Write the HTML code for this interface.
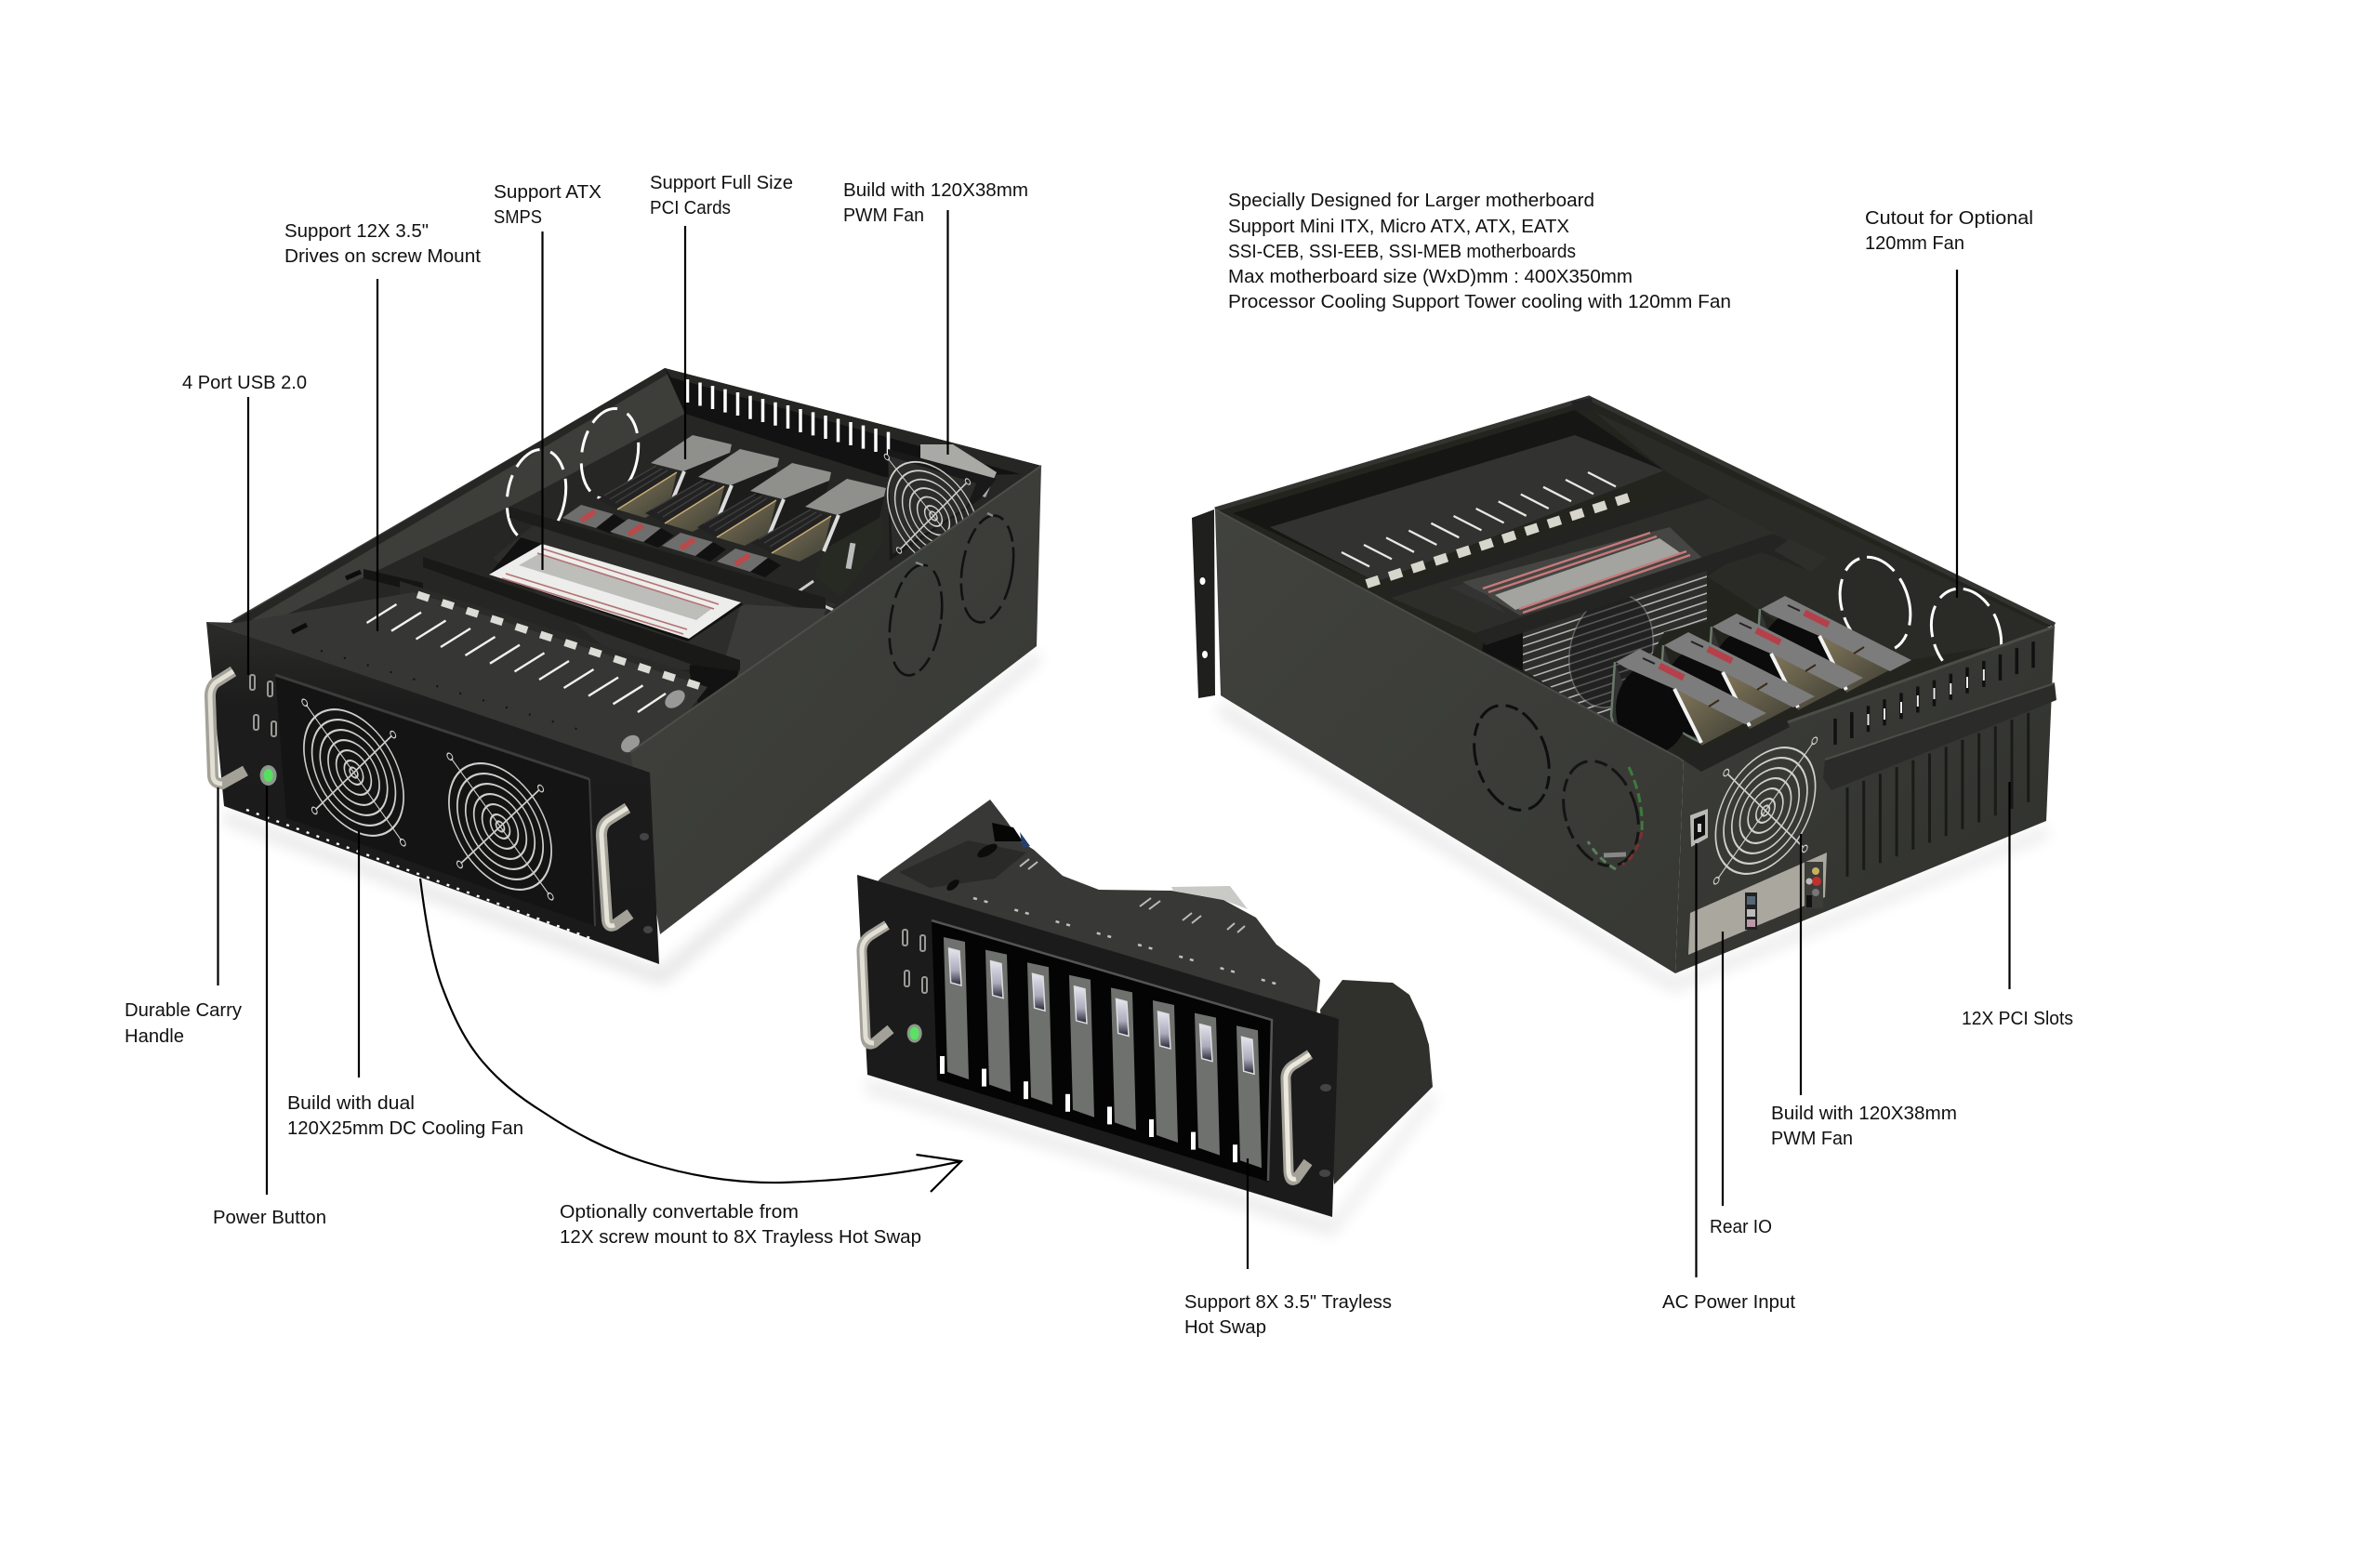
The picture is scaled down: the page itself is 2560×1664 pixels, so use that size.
<!DOCTYPE html>
<html><head><meta charset="utf-8"><title>Chassis features</title>
<style>
html,body{margin:0;padding:0;background:#fff;width:2560px;height:1664px;overflow:hidden}
svg{display:block}
text{font-family:"Liberation Sans",sans-serif;font-size:20.5px;fill:#111}
.l{stroke:#000;stroke-width:2.2;fill:none}
</style></head><body>
<svg xmlns="http://www.w3.org/2000/svg" width="2560" height="1664" viewBox="0 0 2560 1664">
<defs>
<filter id="b" x="-20%" y="-20%" width="140%" height="140%"><feGaussianBlur stdDeviation="8"/></filter>
<linearGradient id="wallL" x1="0" y1="0" x2="1" y2="1"><stop offset="0" stop-color="#41423e"/><stop offset="1" stop-color="#373834"/></linearGradient>
<linearGradient id="wallR" x1="0" y1="0" x2="1" y2="1"><stop offset="0" stop-color="#3d3e39"/><stop offset="1" stop-color="#2f302c"/></linearGradient>
<linearGradient id="gold" x1="0" y1="0" x2="1" y2="1"><stop offset="0" stop-color="#807558"/><stop offset="1" stop-color="#3f3f36"/></linearGradient>
<linearGradient id="win" x1="0" y1="0" x2="0" y2="1"><stop offset="0" stop-color="#e6e6f0"/><stop offset=".6" stop-color="#aab"/><stop offset="1" stop-color="#223"/></linearGradient>
<linearGradient id="panel" x1="0" y1="0" x2="0" y2="1"><stop offset="0" stop-color="#2b2b29"/><stop offset=".25" stop-color="#1c1c1c"/><stop offset="1" stop-color="#1a1a1a"/></linearGradient>
<g id="fan" fill="none" stroke="#cfcfcc" stroke-width="2.3">
<circle r="74"/><circle r="62"/><circle r="50"/><circle r="38"/><circle r="26"/><circle r="14"/><circle r="6"/>
<path d="M-64 -64L64 64M-64 64L64 -64" stroke-width="1.8"/>
<circle cx="-66" cy="-66" r="4" stroke-width="1.5"/><circle cx="66" cy="-66" r="4" stroke-width="1.5"/><circle cx="-66" cy="66" r="4" stroke-width="1.5"/><circle cx="66" cy="66" r="4" stroke-width="1.5"/>
</g>
<g id="lcard">
<polygon points="700,498 745,468 787,478 785,487 735,507" fill="#8f8f8c"/>
<polygon points="735,507 785,487 780,510 722,543" fill="#1c1c1b"/>
<polygon points="664,548 728,508 720,543 694,557" fill="url(#gold)"/>
<polygon points="643,537 700,503 728,508 664,548" fill="#222223"/>
<path d="M650 533L706 501M656 537L712 504M662 541L718 506" stroke="#3e3e3e" stroke-width="1.5"/>
<path d="M736 507L720 546" stroke="#dcdcdc" stroke-width="4"/>
<path d="M664 548L728 508" stroke="#c9ad78" stroke-width="1.5"/>
<polygon points="605,557 625,543 660,553 641,568" fill="#6e6e6e"/>
<polygon points="641,568 660,553 674,561 657,574" fill="#111"/>
<path d="M625 560L640 550" stroke="#b84a4a" stroke-width="6"/>
</g>
<g id="rcard">
<path d="M1737 712L1733 770Q1740 800 1776 816" fill="#333" stroke="#6a7a6a" stroke-width="2.500"/>
<ellipse cx="1777" cy="763" rx="39" ry="48" fill="#0b0b0b"/>
<polygon points="1803,742 1876,778 1830,802" fill="url(#gold)"/>
<polygon points="1738,712 1764,698 1900,767 1877,779 1803,742 1748,718" fill="#7b7c7b"/>
<path d="M1801 741L1830 799" stroke="#f2f2f2" stroke-width="4"/>
<path d="M1785 716L1811 729" stroke="#b5404a" stroke-width="7"/>
<path d="M1767 708L1780 714" stroke="#222" stroke-width="2"/>
<path d="M1838 760L1849 753" stroke="#3a2a18" stroke-width="2"/>
</g>
</defs>
<rect width="2560" height="1664" fill="#fff"/>

<!-- soft shadows -->
<polygon points="241,872 709,1042 1115,700 1120,710 712,1060 240,885" fill="#000" opacity=".1" filter="url(#b)"/>
<polygon points="1313,752 1802,1052 2201,888 2205,900 1800,1068 1310,770" fill="#000" opacity=".08" filter="url(#b)"/>
<polygon points="932,1160 1433,1312 1541,1172 1545,1185 1433,1330 930,1175" fill="#000" opacity=".08" filter="url(#b)"/>

<!-- ============ LEFT CASE ============ -->
<polygon points="248,670 715,396 1120,501 690,830" fill="#262624"/>
<!-- inner wall -->
<polygon points="248,668 715,396 737,445 548,545 300,665" fill="#3d3e39"/>
<polygon points="248,670 715,396 719,402 258,674" fill="#262625"/>
<g fill="none" stroke="#fff" stroke-width="3" stroke-dasharray="32 12 24 10">
<ellipse cx="656" cy="488" rx="30" ry="49" transform="rotate(10 656 488)"/>
<ellipse cx="577" cy="533" rx="31" ry="50" transform="rotate(10 577 533)"/>
</g>
<!-- back wall -->
<polygon points="715,396 1120,501 1101,510 951,513 737,445" fill="#121212"/>
<polygon points="715,396 1120,501 1105,512 722,406" fill="#262624"/>
<path d="M739.5 408v25M753 411.5v25M766.5 415v25M780 418.6v25M793.5 422v25M807 425.7v25M820.5 429v25M834 432.8v25M847.5 436v25M861 440v25M874.5 443.4v25M888 447v25M901.5 450.5v25M915 454v25M928.5 457.6v25M942 461v25M955.5 464.6v25" stroke="#fff" stroke-width="3.5" fill="none"/>
<!-- rear fan -->
<polygon points="990,478 1025,478 1072,508 1060,535 990,510" fill="#a9a9a6"/>
<polygon points="955,483 1072,515 1054,537 957,603" fill="#191919"/>
<polygon points="955,490 1050,520 1040,545 960,596" fill="#2c2d2b"/>
<use href="#fan" transform="matrix(.66,.2,.1,.76,1004,555)"/>
<!-- floor behind PSU -->
<polygon points="530,600 580,560 900,650 800,720 680,720" fill="#2d2e2b"/>
<!-- graphics cards -->
<use href="#lcard"/>
<use href="#lcard" transform="translate(51,15)"/>
<use href="#lcard" transform="translate(107,30)"/>
<polygon points="902,553 949,528 949,585 905,642 876,620" fill="#262a22"/>
<rect x="912" y="584" width="6" height="28" fill="#bbb" transform="rotate(10 915 598)"/>
<use href="#lcard" transform="translate(166,47)"/>
<path d="M875 625L856 638L896 656" stroke="#ccc" stroke-width="3" fill="none"/>
<!-- front bar -->
<polygon points="548,545 888,643 888,655 870,657 548,557" fill="#1d1d1c"/>
<polygon points="797,650 888,655 885,670 800,728 770,742" fill="#3b3c39"/>
<!-- PSU -->
<polygon points="560,578 800,650 740,690 526,618" fill="#111"/>
<polygon points="583,585 797,648 741,687 526,618" fill="#ededeb"/>
<polygon points="558,608 581,595 765,655 749,667" fill="#bdbdba"/>
<path d="M583 590L773 650M544 617L739 677" stroke="#b27272" stroke-width="1.6"/>
<path d="M578 595L768 655M540 622L735 682" stroke="#b27272" stroke-width="1.6"/>
<!-- second bar + tab -->
<polygon points="455,599 796,710 796,721 778,727 455,610" fill="#191918"/>
<polygon points="391,612 455,627 455,638 391,622" fill="#151514"/>
<polygon points="742,715 795,722 770,785 741,740" fill="#121212"/>
<polygon points="430,625 742,724 745,745 430,650" fill="#2a2a28"/>
<!-- drive plate, running down to the panel edge -->
<polygon points="254,670 445,637 761,739 690,830 222,669" fill="#363734"/>
<line x1="449" y1="639.5" x2="752" y2="738" stroke="#dcdcd6" stroke-width="8" stroke-dasharray="13 14.8"/>
<path d="M394.5 670l32 -20M421 678.7l32 -20M447.5 687.5l32 -20M474 696l32 -20M500.5 705l32 -20M527 713.7l32 -20M553.5 722.4l32 -20M580 731l32 -20M606.5 740l32 -20M633 748.6l32 -20M659.5 757.3l32 -20M686 766l30 -20" stroke="#f2f2ec" stroke-width="2.4" fill="none"/>
<path d="M314 680l16 -8M372 622l16 -7" stroke="#0c0c0c" stroke-width="5"/>
<line x1="345" y1="700" x2="640" y2="790" stroke="#111" stroke-width="2" stroke-dasharray="2 24"/>
<ellipse cx="726" cy="752" rx="12" ry="8" transform="rotate(-38 726 752)" fill="#999"/>
<ellipse cx="678" cy="800" rx="11" ry="8" transform="rotate(-38 678 800)" fill="#999"/>
<!-- side wall -->
<polygon points="678,809 1120,501 1115,695 710,1005" fill="url(#wallL)"/>
<path d="M678 809L1120 501" stroke="#4d4e49" stroke-width="2"/>
<g fill="none" stroke="#111" stroke-width="2.6" stroke-dasharray="30 8 18 6">
<ellipse cx="985" cy="667" rx="27" ry="60" transform="rotate(9 985 667)"/>
<ellipse cx="1062" cy="612" rx="27" ry="58" transform="rotate(9 1062 612)"/>
</g>
<path d="M985 605l8 3M1062 552l6 3" stroke="#888" stroke-width="2.5"/>
<!-- front panel -->
<polygon points="222,669 699,831 709,1037 241,867" fill="url(#panel)"/>
<line x1="265" y1="871" x2="640" y2="1011" stroke="#fff" stroke-width="2.4" stroke-dasharray="3 8.5"/>
<polygon points="296,726 634,838 640,996 308,880" fill="#141414"/>
<path d="M296 726L634 838" stroke="#3c3c3a" stroke-width="3"/>
<path d="M634 838L640 996" stroke="#3c3c3a" stroke-width="2"/>
<use href="#fan" transform="matrix(.72,.26,.08,.88,380.5,831)"/>
<use href="#fan" transform="matrix(.74,.26,.08,.88,538,889)"/>
<g fill="none" stroke="#9a9a96" stroke-width="2">
<rect x="269" y="726" width="5" height="16" rx="2"/><rect x="288" y="733" width="5" height="16" rx="2"/><rect x="273" y="769" width="5" height="16" rx="2"/><rect x="292" y="776" width="5" height="16" rx="2"/>
</g>
<ellipse cx="288.6" cy="834" rx="9" ry="11" fill="#8b9a8b"/>
<ellipse cx="288.6" cy="834" rx="5" ry="7" fill="#56e060"/>
<path d="M251 722L232 734Q225.500 740 226 750L229 835Q230 843 239 843L264 829" fill="none" stroke="#a3a198" stroke-width="12"/>
<path d="M251 722L232 734Q225.500 740 226 750L229 835Q230 843 239 843" fill="none" stroke="#e2dfd4" stroke-width="5"/>
<path d="M675 869L656 881Q646 887 647 900L653 990Q654 998 661 995L678 983" fill="none" stroke="#a3a198" stroke-width="12"/>
<path d="M675 869L656 881Q646 887 647 900L653 990Q654 998 661 995" fill="none" stroke="#e6e3d8" stroke-width="5"/>
<ellipse cx="693" cy="900" rx="5" ry="4" fill="#444"/><ellipse cx="697" cy="1000" rx="5" ry="4" fill="#444"/>

<!-- ============ RIGHT CASE ============ -->
<polygon points="1282,557 1306,548 1307,748 1289,751" fill="#1f1f1e"/>
<ellipse cx="1293.500" cy="625" rx="3" ry="4" fill="#fff"/><ellipse cx="1296" cy="704" rx="3" ry="4" fill="#fff"/>
<polygon points="1307,548 1709,428 2210,672 1811,818" fill="#24241f"/>
<polygon points="1326,552 1694,441 1790,506 1480,626" fill="#161615"/>
<path d="M1307 548L1709 428L2210 672" fill="none" stroke="#333330" stroke-width="5"/>
<polygon points="1690,432 1712,428 1714,440 1694,442" fill="#222"/>
<!-- right inner wall -->
<polygon points="1714,442 2205,676 2180,690 1990,720 1836,620 1907,574 1790,506" fill="#2a2a26"/>
<g fill="none" stroke="#fff" stroke-width="3" stroke-dasharray="34 10 20 8">
<ellipse cx="2017" cy="650" rx="36" ry="52" transform="rotate(-18 2017 650)"/>
<ellipse cx="2115" cy="682" rx="36" ry="50" transform="rotate(-18 2115 682)"/>
</g>
<!-- drive plate -->
<polygon points="1366,567 1694,468 1790,506 1480,626" fill="#323230"/>
<path d="M1443 594l30 15.400M1467 586l30 15.400M1491 578.400l30 15.400M1515.300 570.600l30 15.400M1539.400 562.800l30 15.400M1563.500 555l30 15.400M1587.600 547l30 15.400M1611.700 539.400l30 15.400M1635.800 531.600l30 15.400M1660 523.800l30 15.400M1684 516l30 15.400M1708 508l30 15.400" stroke="#e8e8e2" stroke-width="2.3" fill="none"/>
<line x1="1470" y1="628" x2="1752" y2="535" stroke="#d6d6cc" stroke-width="10" stroke-dasharray="14 11.700"/>
<polygon points="1487,635 1827,527 1839,536 1496,643" fill="#232321"/>
<polygon points="1496,643 1839,536 1910,574 1598,690 1586,681" fill="#2d2d2a"/>
<!-- PSU top -->
<polygon points="1573,626 1796,567 1836,605 1635,662" fill="#454543"/>
<polygon points="1575,628 1600,640 1620,660 1560,632" fill="#333"/>
<path d="M1595 633L1775 573M1601 637L1782 577" stroke="#c77a7a" stroke-width="2.4"/>
<polygon points="1608,640 1785,579 1808,595 1630,656" fill="#a3a3a0"/>
<path d="M1634 655L1814 593M1638 659L1818 597" stroke="#c77a7a" stroke-width="2.4"/>
<!-- PSU face -->
<clipPath id="psu"><polygon points="1638,680 1836,613 1836,668 1790,680 1733,785 1725,775 1638,720"/></clipPath>
<polygon points="1638,680 1836,613 1836,668 1790,680 1733,785 1725,775 1638,720" fill="#2e2e2d"/>
<g clip-path="url(#psu)"><path d="M1638 686l198 -66M1638 695l198 -66M1638 704l198 -66M1638 713l198 -66M1638 722l198 -66M1638 731l198 -66M1638 740l198 -66M1638 749l198 -66M1638 758l198 -66M1638 767l198 -66M1638 776l198 -66M1638 785l198 -66M1638 794l198 -66" stroke="#b5b5b2" stroke-width="1.6" fill="none"/>
<ellipse cx="1733" cy="700" rx="44" ry="62" transform="rotate(14 1733 700)" fill="#1a1a1a" opacity=".6" stroke="#888" stroke-width="1.5"/></g>
<polygon points="1598,680 1638,680 1638,722 1594,700" fill="#111"/>
<!-- bar 2 -->
<polygon points="1586,681 1907,574 1963,601 1940,612 1895,594 1598,694" fill="#242422"/>
<polygon points="1925,580 1965,600 1948,615 1908,592" fill="#2e2e2b"/>
<!-- graphics cards right -->
<use href="#rcard" transform="translate(156,-57)"/>
<use href="#rcard" transform="translate(104,-38)"/>
<use href="#rcard" transform="translate(52,-18)"/>
<use href="#rcard"/>
<!-- left wall -->
<polygon points="1307,548 1811,818 1802,1047 1313,748" fill="url(#wallL)"/>
<path d="M1307 548L1811 818" stroke="#4a4b46" stroke-width="2"/>
<g fill="none" stroke="#0e0e0e" stroke-width="3" stroke-dasharray="24 8 14 6">
<ellipse cx="1626" cy="815" rx="38" ry="58" transform="rotate(-18 1626 815)"/>
</g>
<g fill="none" stroke-width="3">
<ellipse cx="1722" cy="875" rx="38" ry="58" transform="rotate(-18 1722 875)" stroke="#141414" stroke-dasharray="24 8 14 6"/>
<path d="M1752 825Q1768 860 1766 895" stroke="#3c7a3c" stroke-dasharray="10 5"/>
<path d="M1766 895Q1760 922 1745 930" stroke="#7a3030" stroke-dasharray="8 5"/>
<path d="M1738 935Q1720 925 1708 905" stroke="#5b7f5b" stroke-dasharray="8 5"/>
<path d="M1725 920l24 -1" stroke="#888" stroke-width="5"/>
</g>
<!-- rear wall -->
<polygon points="1811,818 2210,673 2201,883 1802,1047" fill="url(#wallR)"/>
<path d="M1808 818L2210 674" stroke="#4c4d48" stroke-width="3"/>
<polygon points="1807,815 1920,770 1925,782 1830,830" fill="#232321"/>
<path d="M1974 773v28M1991.800 766v28M2009.500 759.200v28M2027 752.300v28M2045 745.400v28M2062.800 738.500v28M2080.500 731.600v28M2098.300 724.700v28M2116 717.800v28M2133.800 710.900v28M2151.500 704v28M2169.300 697.100v28M2187 690.200v28" stroke="#101010" stroke-width="3.500" fill="none"/>
<path d="M2009.500 768v12M2027 762v12M2045 755v12M2062.800 748v12M2080.500 740v12M2098.300 735v12M2116 728v12M2133.800 720v12" stroke="#eee" stroke-width="2" fill="none"/>
<path d="M1987 847v96M2004.700 839.700v96M2022.400 832.400v96M2040.100 825.100v96M2057.800 817.800v96M2075.500 810.500v96M2093.200 803.200v96M2110.900 795.900v96M2128.600 788.600v96M2146.300 781.300v96M2164 774v96M2181.700 766.700v96" stroke="#1a1a18" stroke-width="3" fill="none"/>
<polygon points="1963,817 2210,735 2212,753 1970,850 1961,837" fill="#2b2b29"/>
<path d="M1963 817L2210 735" stroke="#4c4d48" stroke-width="2"/>
<use href="#fan" transform="matrix(.72,-.26,-.08,.88,1899,872)"/>
<polygon points="1818,877 1837,870 1837,901 1819,911" fill="#b9b9b4"/>
<polygon points="1822,881 1834,876 1834,898 1822,904" fill="#0f0f0f"/>
<rect x="1826" y="886" width="4" height="9" fill="#ccc"/>
<polygon points="1818,982 1965,917 1963,965 1816,1027" fill="#aaa79f"/>
<rect x="1877" y="960" width="13" height="40" fill="#222"/>
<rect x="1879" y="964" width="9" height="9" fill="#567"/><rect x="1879" y="978" width="9" height="8" fill="#bbb"/><rect x="1879" y="989" width="9" height="8" fill="#b9a"/>
<rect x="1941" y="927" width="20" height="50" fill="#3c3c38"/>
<circle cx="1953" cy="937" r="4" fill="#c8b060"/><circle cx="1954" cy="948" r="5" fill="#c03030"/><circle cx="1946" cy="948" r="3.500" fill="#bbb"/><circle cx="1953" cy="960" r="4" fill="#777"/><rect x="1943" y="963" width="6" height="13" fill="#111"/>

<!-- ============ BOTTOM CENTRE CASE ============ -->
<polygon points="1420,1086 1444,1054 1498,1057 1516,1070 1530,1100 1537,1124 1541,1169 1435,1274" fill="#30312d"/>
<polygon points="948,944 1065,860 1082,882 1098,905 1112,914 1143,942 1182,957 1260,958 1316,968 1351,987 1373,1016 1407,1041 1420,1054 1416,1092 940,952" fill="#383936"/>
<polygon points="1260,954 1323,953 1342,978 1316,968 1262,958" fill="#c9c9c6"/>
<polygon points="967,938 1041,904 1104,917 1070,945 1000,955" fill="#2a2a28"/>
<polygon points="1067,885 1090,890 1100,905 1070,905" fill="#060606"/>
<polygon points="1097,895 1108,910 1100,912" fill="#23406f"/>
<ellipse cx="1062" cy="915" rx="12" ry="5" transform="rotate(-30 1062 915)" fill="#0c0c0c"/>
<ellipse cx="1025" cy="952" rx="8" ry="4" transform="rotate(-40 1025 952)" fill="#0c0c0c"/>
<line x1="1047" y1="966" x2="1379" y2="1060" stroke="#c2c2bd" stroke-width="2.500" stroke-dasharray="4 8 4 30"/>
<path d="M1097 932l10 -8M1106 935l10 -8M1226 975l12 -9M1236 978l12 -9M1272 990l10 -8M1282 993l10 -8M1320 1000l8 -7M1331 1003l8 -7" stroke="#bbb" stroke-width="2"/>
<polygon points="922,941 1440,1096 1433,1309 933,1156" fill="#1b1b1b"/>
<polygon points="1002,990 1368,1097 1364,1271 1008,1162" fill="#040404"/>
<path d="M1002 990L1368 1097L1364 1270" fill="none" stroke="#555" stroke-width="2.500"/>
<g id="dr">
<polygon points="1015,1008 1038,1013 1042,1161 1019,1153" fill="#6f716e"/>
<polygon points="1020.500,1020 1032,1023 1034,1060 1022.700,1057" fill="url(#win)" stroke="#ddd" stroke-width="1.500"/>
<rect x="1011" y="1136" width="5" height="19" fill="#fff"/>
</g>
<use href="#dr" transform="translate(45,13.600)"/>
<use href="#dr" transform="translate(90,27.200)"/>
<use href="#dr" transform="translate(135,40.800)"/>
<use href="#dr" transform="translate(180,54.400)"/>
<use href="#dr" transform="translate(225,68)"/>
<use href="#dr" transform="translate(270,81.600)"/>
<use href="#dr" transform="translate(315,95.200)"/>
<g fill="none" stroke="#9a9a96" stroke-width="2">
<rect x="971" y="1000" width="5" height="17" rx="2"/><rect x="990" y="1006" width="5" height="17" rx="2"/><rect x="973" y="1044" width="5" height="17" rx="2"/><rect x="992" y="1051" width="5" height="17" rx="2"/>
</g>
<ellipse cx="983.700" cy="1111.500" rx="8" ry="10" fill="#8a9a8a"/><ellipse cx="983.700" cy="1111.500" rx="5" ry="7" fill="#5de066"/>
<path d="M954 995L938 1005Q926 1012 927 1025L931 1115Q932 1126 940 1122L958 1107" fill="none" stroke="#a3a198" stroke-width="11"/>
<path d="M954 995L938 1005Q926 1012 927 1025L931 1115Q932 1122 940 1122" fill="none" stroke="#e2dfd4" stroke-width="5"/>
<path d="M1409 1134L1394 1144Q1382 1150 1383 1162L1386 1260Q1387 1273 1394 1268L1407 1250" fill="none" stroke="#a3a198" stroke-width="11"/>
<path d="M1409 1134L1394 1144Q1382 1150 1383 1162L1386 1260Q1387 1270 1394 1268" fill="none" stroke="#ebe8dd" stroke-width="5"/>
<ellipse cx="1426" cy="1170" rx="6" ry="4" fill="#444"/><ellipse cx="1425" cy="1262" rx="6" ry="4" fill="#444"/>

<!-- ============ CONNECTORS ============ -->
<g class="l">
<path class="l" d="M406 300V679"/>
<path class="l" d="M583.500 249V613"/>
<path class="l" d="M737 243V494"/>
<path class="l" d="M1019.500 226V489"/>
<path class="l" d="M267 427V726"/>
<path class="l" d="M234.500 847V1060"/>
<path class="l" d="M287 845V1285"/>
<path class="l" d="M386 893V1159"/>
<path class="l" d="M2105 290V643"/>
<path class="l" d="M2161.500 841V1064"/>
<path class="l" d="M1937 897V1178"/>
<path class="l" d="M1853 1002V1297"/>
<path class="l" d="M1824.500 907V1374"/>
<path class="l" d="M1342 1246V1365"/>
<path class="l" stroke-width="2.500" d="M452 945C457 985 464 1030 475 1060C488 1095 500 1118 515 1137C535 1162 558 1180 585.500 1197C620 1220 655 1238 694 1250C742 1265 790 1273 841 1272C910 1270 975 1262 1034 1249"/>
<path class="l" d="M985.500 1242L1034 1249L1001 1282"/>
</g>

<!-- ============ LABELS ============ -->
<g lengthAdjust="spacingAndGlyphs">
<text lengthAdjust="spacingAndGlyphs" x="306" y="255" textLength="155">Support 12X 3.5"</text>
<text lengthAdjust="spacingAndGlyphs" x="306" y="282" textLength="211">Drives on screw Mount</text>
<text lengthAdjust="spacingAndGlyphs" x="531" y="213" textLength="116">Support ATX</text>
<text lengthAdjust="spacingAndGlyphs" x="531" y="240" textLength="52">SMPS</text>
<text lengthAdjust="spacingAndGlyphs" x="699" y="203" textLength="154">Support Full Size</text>
<text lengthAdjust="spacingAndGlyphs" x="699" y="230" textLength="87">PCI Cards</text>
<text lengthAdjust="spacingAndGlyphs" x="907" y="211" textLength="199">Build with 120X38mm</text>
<text lengthAdjust="spacingAndGlyphs" x="907" y="238" textLength="87">PWM Fan</text>
<text lengthAdjust="spacingAndGlyphs" x="196" y="418" textLength="134">4 Port USB 2.0</text>
<text lengthAdjust="spacingAndGlyphs" x="1321" y="222" textLength="394">Specially Designed for Larger motherboard</text>
<text lengthAdjust="spacingAndGlyphs" x="1321" y="250" textLength="367">Support Mini ITX, Micro ATX, ATX, EATX</text>
<text lengthAdjust="spacingAndGlyphs" x="1321" y="277" textLength="374">SSI-CEB, SSI-EEB, SSI-MEB motherboards</text>
<text lengthAdjust="spacingAndGlyphs" x="1321" y="304" textLength="435">Max motherboard size (WxD)mm : 400X350mm</text>
<text lengthAdjust="spacingAndGlyphs" x="1321" y="331" textLength="541">Processor Cooling Support Tower cooling with 120mm Fan</text>
<text lengthAdjust="spacingAndGlyphs" x="2006" y="241" textLength="181">Cutout for Optional</text>
<text lengthAdjust="spacingAndGlyphs" x="2006" y="268" textLength="107">120mm Fan</text>
<text lengthAdjust="spacingAndGlyphs" x="134" y="1093" textLength="126">Durable Carry</text>
<text lengthAdjust="spacingAndGlyphs" x="134" y="1121" textLength="64">Handle</text>
<text lengthAdjust="spacingAndGlyphs" x="309" y="1193" textLength="137">Build with dual</text>
<text lengthAdjust="spacingAndGlyphs" x="309" y="1220" textLength="254">120X25mm DC Cooling Fan</text>
<text lengthAdjust="spacingAndGlyphs" x="229" y="1316" textLength="122">Power Button</text>
<text lengthAdjust="spacingAndGlyphs" x="602" y="1310" textLength="257">Optionally convertable from</text>
<text lengthAdjust="spacingAndGlyphs" x="602" y="1337" textLength="389">12X screw mount to 8X Trayless Hot Swap</text>
<text lengthAdjust="spacingAndGlyphs" x="2110" y="1102" textLength="120">12X PCI Slots</text>
<text lengthAdjust="spacingAndGlyphs" x="1905" y="1204" textLength="200">Build with 120X38mm</text>
<text lengthAdjust="spacingAndGlyphs" x="1905" y="1231" textLength="88">PWM Fan</text>
<text lengthAdjust="spacingAndGlyphs" x="1839" y="1326" textLength="67">Rear IO</text>
<text lengthAdjust="spacingAndGlyphs" x="1788" y="1407" textLength="143">AC Power Input</text>
<text lengthAdjust="spacingAndGlyphs" x="1274" y="1407" textLength="223">Support 8X 3.5" Trayless</text>
<text lengthAdjust="spacingAndGlyphs" x="1274" y="1434" textLength="88">Hot Swap</text>
</g>
</svg>
</body></html>
